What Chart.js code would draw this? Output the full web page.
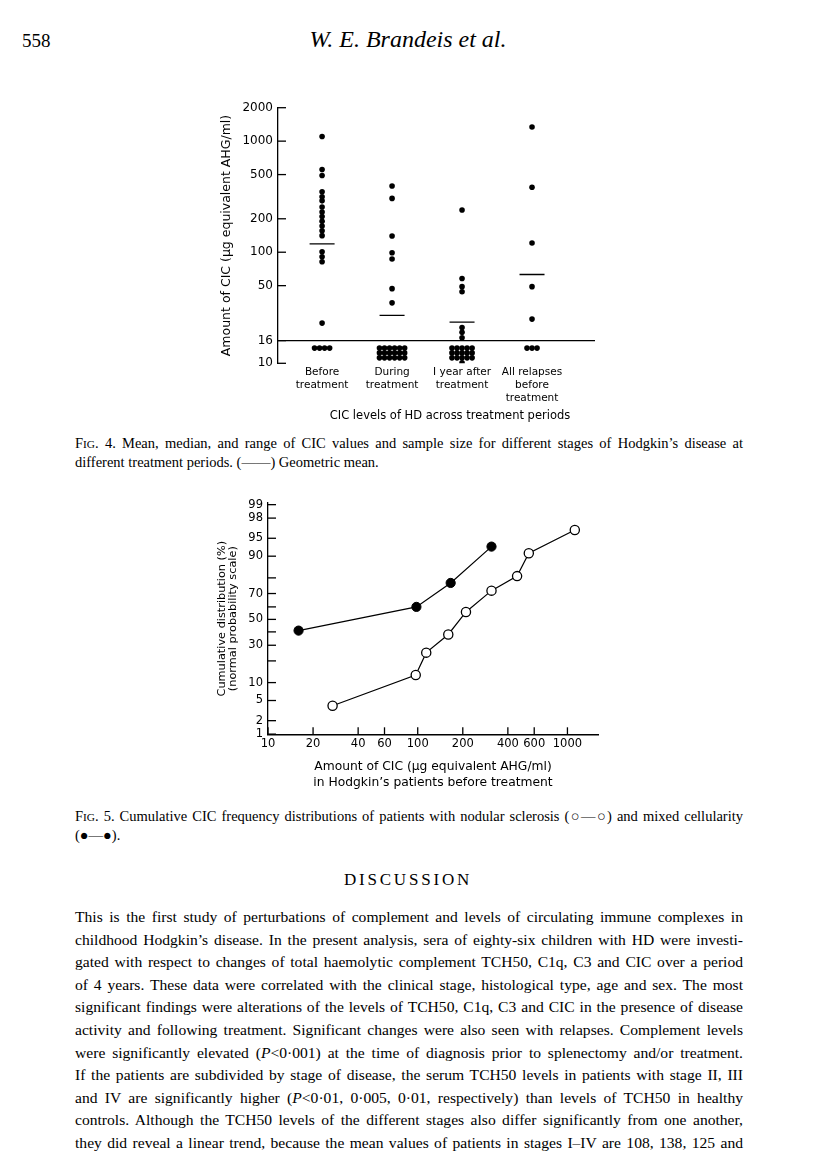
<!DOCTYPE html>
<html>
<head>
<meta charset="utf-8">
<script src="https://cdn.jsdelivr.net/npm/chart.js@4.4.0/dist/chart.umd.min.js"></script>
<style>
body { margin: 0; background: #fff; }
#page { position: relative; width: 816px; height: 1171px; overflow: hidden; font-family: "Liberation Serif", "Times New Roman", serif; color: #000; }
.abs { position: absolute; }
.line { position: absolute; left: 75px; width: 668px; text-align: justify; text-align-last: justify; }
.cap { font-size: 14.5px; line-height: 19px; }
.body { font-size: 15.6px; line-height: 22.6px; }
.sc { font-size: 0.78em; }
.plotlabel { font-family: "DejaVu Sans", sans-serif; font-size: 11.5px; white-space: nowrap; }
</style>
</head>
<body>
<div id="page">
  <div class="abs" style="left:22px; top:30px; font-size:19px;">558</div>
  <div class="abs" style="left:0; width:816px; top:26px; text-align:center; font-size:24px; font-style:italic;">W. E. Brandeis <i>et al.</i></div>

  <div class="abs" style="left:195px; top:90px; width:415px; height:340px;"><canvas id="fig4"></canvas></div>
  <div class="abs plotlabel" style="left:450px; top:408px; transform:translateX(-50%);">CIC levels of HD across treatment periods</div>

  <div class="line cap" style="top:434px;">F<span class="sc">IG</span>. 4. Mean, median, and range of CIC values and sample size for different stages of Hodgkin’s disease at</div>
  <div class="abs cap" style="left:75px; top:453px;">different treatment periods. (——) Geometric mean.</div>

  <div class="abs" style="left:195px; top:490px; width:420px; height:310px;"><canvas id="fig5"></canvas></div>

  <div class="line cap" style="top:807px;">F<span class="sc">IG</span>. 5. Cumulative CIC frequency distributions of patients with nodular sclerosis (○—○) and mixed cellularity</div>
  <div class="abs cap" style="left:75px; top:826px;">(●—●).</div>

  <div class="abs" style="left:0; width:816px; top:870px; text-align:center; font-size:17px; letter-spacing:2.8px;">DISCUSSION</div>

  <div class="body">
    <div class="line" style="top:906px;">This is the first study of perturbations of complement and levels of circulating immune complexes in</div>
    <div class="line" style="top:928.6px;">childhood Hodgkin’s disease. In the present analysis, sera of eighty-six children with HD were investi-</div>
    <div class="line" style="top:951.2px;">gated with respect to changes of total haemolytic complement TCH50, C1q, C3 and CIC over a period</div>
    <div class="line" style="top:973.8px;">of 4 years. These data were correlated with the clinical stage, histological type, age and sex. The most</div>
    <div class="line" style="top:996.4px;">significant findings were alterations of the levels of TCH50, C1q, C3 and CIC in the presence of disease</div>
    <div class="line" style="top:1019px;">activity and following treatment. Significant changes were also seen with relapses. Complement levels</div>
    <div class="line" style="top:1041.6px;">were significantly elevated (<i>P</i>&lt;0·001) at the time of diagnosis prior to splenectomy and/or treatment.</div>
    <div class="line" style="top:1064.2px;">If the patients are subdivided by stage of disease, the serum TCH50 levels in patients with stage II, III</div>
    <div class="line" style="top:1086.8px;">and IV are significantly higher (<i>P</i>&lt;0·01, 0·005, 0·01, respectively) than levels of TCH50 in healthy</div>
    <div class="line" style="top:1109.4px;">controls. Although the TCH50 levels of the different stages also differ significantly from one another,</div>
    <div class="line" style="top:1132px;">they did reveal a linear trend, because the mean values of patients in stages I–IV are 108, 138, 125 and</div>
  </div>
</div>

<script>
// Fig. 4 data (ug equivalent AHG/ml)
var groupLabels = [['Before', 'treatment'], ['During', 'treatment'], ['I year after', 'treatment'], ['All relapses', 'before', 'treatment']];
var beforeCIC = [1100, 555, 490, 350, 315, 290, 255, 230, 210, 190, 172, 156, 141, 101, 91, 82, 23];
var duringCIC = [395, 305, 140, 99, 87, 47, 35];
var yearAfterCIC = [240, 58, 49, 44, 21, 19, 17];
var relapseCIC = [1340, 385, 121, 49, 25];
var belowLimitCount = [4, 18, 16, 3];   // samples under the detection limit
var geoMeans = [119, 27, 23.5, 63];
var detectionLimit = 16;
var cicTicks = [10, 16, 50, 100, 200, 500, 1000, 2000];

// Fig. 5 data
var cicTicksX = [10, 20, 40, 60, 100, 200, 400, 600, 1000];
var probTicks = [1, 2, 5, 10, 20, 30, 40, 50, 60, 70, 80, 90, 95, 98, 99];
var probLabelled = [1, 2, 5, 10, 30, 50, 70, 90, 95, 98, 99];
var nodularCIC = [27, 97, 114, 160, 210, 311, 461, 552, 1120];
var nodularPct = [4, 13, 25, 38, 56, 72, 81, 91, 96.5];
var mixedCIC = [16, 98, 166, 311];
var mixedPct = [41, 60, 77, 93];

// how the "below 16" dots get stacked under each column
var clusterCols = [4, 6, 5, 3];
var belowLevels = [13.7, 12.4, 11.2, 10.1];

Chart.defaults.font.family = '"DejaVu Sans", sans-serif';
Chart.defaults.color = '#000';

// inverse normal cdf (Acklam) for the probability axis
function probit(p) {
    var a = [-39.69683028665376, 220.9460984245205, -275.9285104469687, 138.3577518672690, -30.66479806614716, 2.506628277459239];
    var b = [-54.47609879822406, 161.5858368580409, -155.6989798598866, 66.80131188771972, -13.28068155288572];
    var c = [-0.007784894002430293, -0.3223964580411365, -2.400758277161838, -2.549732539343734, 4.374664141464968, 2.938163982698783];
    var d = [0.007784695709041462, 0.3224671290700398, 2.445134137142996, 3.754408661907416];
    var pl = 0.02425, q, r;
    if (p < pl) {
        q = Math.sqrt(-2 * Math.log(p));
        return (((((c[0]*q+c[1])*q+c[2])*q+c[3])*q+c[4])*q+c[5]) / ((((d[0]*q+d[1])*q+d[2])*q+d[3])*q+1);
    }
    if (p > 1 - pl) {
        q = Math.sqrt(-2 * Math.log(1 - p));
        return -(((((c[0]*q+c[1])*q+c[2])*q+c[3])*q+c[4])*q+c[5]) / ((((d[0]*q+d[1])*q+d[2])*q+d[3])*q+1);
    }
    q = p - 0.5; r = q * q;
    return (((((a[0]*r+a[1])*r+a[2])*r+a[3])*r+a[4])*r+a[5])*q / (((((b[0]*r+b[1])*r+b[2])*r+b[3])*r+b[4])*r+1);
}

// tick marks pointing into the plot, like the original
var inwardTicks = {
    id: 'inwardTicks',
    afterDraw: function (chart, args, opts) {
        var ctx = chart.ctx, area = chart.chartArea;
        ctx.save();
        ctx.strokeStyle = '#000';
        ctx.lineWidth = 1.3;
        if (opts.y) {
            chart.scales.y.ticks.forEach(function (t) {
                var py = chart.scales.y.getPixelForValue(t.value);
                ctx.beginPath(); ctx.moveTo(area.left, py); ctx.lineTo(area.left + opts.y, py); ctx.stroke();
            });
        }
        if (opts.x) {
            chart.scales.x.ticks.forEach(function (t) {
                var px = chart.scales.x.getPixelForValue(t.value);
                ctx.beginPath(); ctx.moveTo(px, area.bottom); ctx.lineTo(px, area.bottom - opts.x); ctx.stroke();
            });
        }
        ctx.restore();
    }
};

// ---- Fig. 4 ----
var xMin = 0.37, xMax = 4.9;
var groupValues = [beforeCIC, duringCIC, yearAfterCIC, relapseCIC];
var dots = [];
groupValues.forEach(function (vals, i) {
    vals.forEach(function (v) { dots.push({ x: i + 1, y: v }); });
    var n = belowLimitCount[i], cols = clusterCols[i];
    for (var k = 0; k < n; k++) {
        var row = Math.floor(k / cols);
        var inRow = Math.min(cols, n - row * cols);
        var col = k % cols;
        dots.push({ x: i + 1 + (col - (inRow - 1) / 2) * 0.072, y: belowLevels[row] });
    }
});

new Chart(document.getElementById('fig4'), {
    type: 'scatter',
    data: {
        datasets: [{
            data: dots,
            pointRadius: 2.8,
            pointBackgroundColor: '#000',
            pointBorderWidth: 0
        }, {
            data: geoMeans.map(function (m, i) { return { x: i + 1, y: m }; }),
            pointStyle: 'line',
            pointRadius: 12.5,
            pointBorderColor: '#000',
            pointBorderWidth: 1.4
        }, {
            data: [{ x: xMin, y: detectionLimit }, { x: xMax, y: detectionLimit }],
            showLine: true,
            borderColor: '#000',
            borderWidth: 1.3,
            pointRadius: 0
        }]
    },
    options: {
        responsive: true,
        maintainAspectRatio: false,
        animation: false,
        layout: { padding: { top: 17.7, right: 15, left: 0, bottom: 0 } },
        plugins: { legend: { display: false }, tooltip: { enabled: false }, inwardTicks: { y: 8 } },
        scales: {
            x: {
                type: 'linear', min: xMin, max: xMax,
                border: { display: false },
                grid: { display: false, drawTicks: false },
                afterBuildTicks: function (s) { s.ticks = [1, 2, 3, 4].map(function (v) { return { value: v }; }); },
                ticks: {
                    padding: 2, autoSkip: false, maxRotation: 0,
                    font: { size: 10.5, lineHeight: 1.25 },
                    callback: function (v) { return groupLabels[v - 1]; }
                },
                afterFit: function (s) { s.height = 66.7; }
            },
            y: {
                type: 'logarithmic', min: 10, max: 2000,
                border: { display: true, color: '#000', width: 1.3 },
                grid: { display: false, drawTicks: false },
                afterBuildTicks: function (s) { s.ticks = cicTicks.map(function (v) { return { value: v }; }); },
                ticks: { padding: 5, autoSkip: false, font: { size: 12 }, callback: function (v) { return String(v); } },
                title: { display: true, text: 'Amount of CIC (μg equivalent AHG/ml)', font: { size: 12.5, lineHeight: 1.2 }, padding: { top: 24.5, bottom: 0 } },
                afterFit: function (s) { s.width = 83; }
            }
        }
    },
    plugins: [inwardTicks]
});

// ---- Fig. 5 ----
function toProb(xs, ps) {
    return xs.map(function (x, i) { return { x: x, y: probit(ps[i] / 100) }; });
}

new Chart(document.getElementById('fig5'), {
    type: 'scatter',
    data: {
        datasets: [{
            label: 'Mixed cellularity',
            data: toProb(mixedCIC, mixedPct),
            showLine: true,
            borderColor: '#000',
            borderWidth: 1.2,
            pointRadius: 4.6,
            pointBackgroundColor: '#000',
            pointBorderColor: '#000',
            pointBorderWidth: 1
        }, {
            label: 'Nodular sclerosis',
            data: toProb(nodularCIC, nodularPct),
            showLine: true,
            borderColor: '#000',
            borderWidth: 1.2,
            pointRadius: 4.6,
            pointBackgroundColor: '#fff',
            pointBorderColor: '#000',
            pointBorderWidth: 1.3
        }]
    },
    options: {
        responsive: true,
        maintainAspectRatio: false,
        animation: false,
        layout: { padding: { top: 13, right: 17, left: 0, bottom: 0 } },
        plugins: { legend: { display: false }, tooltip: { enabled: false }, inwardTicks: { y: 8, x: 7 } },
        scales: {
            x: {
                type: 'logarithmic', min: 10, max: 1600,
                border: { display: true, color: '#000', width: 1.4 },
                grid: { display: false, drawTicks: false },
                afterBuildTicks: function (s) { s.ticks = cicTicksX.map(function (v) { return { value: v }; }); },
                ticks: { padding: 3, autoSkip: false, maxRotation: 0, font: { size: 11.5 }, callback: function (v) { return String(v); } },
                title: {
                    display: true,
                    text: ['Amount of CIC (μg equivalent AHG/ml)', 'in Hodgkin’s patients before treatment'],
                    font: { size: 12.3, lineHeight: 1.3 },
                    padding: { top: 0, bottom: 9 }
                },
                afterFit: function (s) { s.height = 65.7; }
            },
            y: {
                type: 'linear', min: -2.33, max: 2.36,
                border: { display: true, color: '#000', width: 1.3 },
                grid: { display: false, drawTicks: false },
                afterBuildTicks: function (s) { s.ticks = probTicks.map(function (p) { return { value: probit(p / 100) }; }); },
                ticks: {
                    padding: 5, autoSkip: false, font: { size: 11.5 },
                    callback: function (v, i) { var p = probTicks[i]; return probLabelled.indexOf(p) >= 0 ? String(p) : ''; }
                },
                title: {
                    display: true,
                    text: ['Cumulative distribution (%)', '(normal probability scale)'],
                    font: { size: 11.3, lineHeight: 1.0 },
                    padding: { top: 21.4, bottom: 0 }
                },
                afterFit: function (s) { s.width = 73; }
            }
        }
    },
    plugins: [inwardTicks]
});
</script>
</body>
</html>
